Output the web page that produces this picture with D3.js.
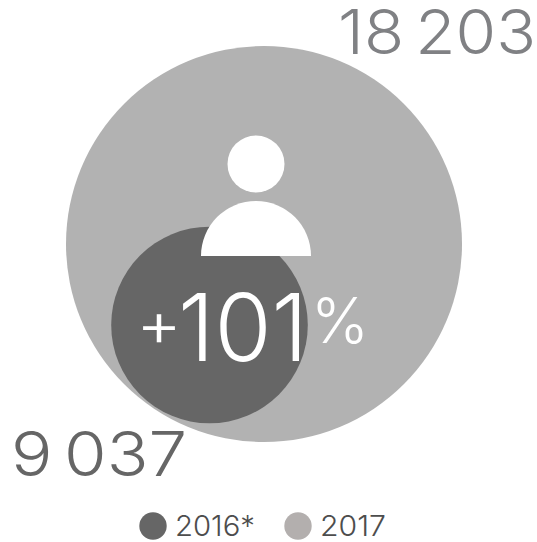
<!DOCTYPE html>
<html>
<head>
<meta charset="utf-8">
<script src="https://cdn.jsdelivr.net/npm/d3@7"></script>
<style>
  html, body { margin: 0; padding: 0; background: #fff; }
  text { font-family: Inter, "Open Sans", sans-serif; font-weight: 300; }
</style>
</head>
<body>
<div class="canvas"></div>
<script>
const years = ['2016*', '2017'];
const values = [9037, 18203];
const valueLabels = ['9 037', '18 203'];
const change = ['+', '101', '%'];

const dims = {width: 537, height: 542};

const svg = d3.select('.canvas')
    .append('svg')
    .attr('width', dims.width)
    .attr('height', dims.height)
    .style('display', 'block');

// radius is linear with the value in the original, not the area
const radius = d3.scaleLinear().domain([0, 18203]).range([0, 198]);

const colour = d3.scaleOrdinal().domain(years).range(['#666666', '#b2b2b2']);
const legendColour = d3.scaleOrdinal().domain(years).range(['#666666', '#b3afae']);

// circles, big one first
const circlePos = {'2016*': {x: 209.5, y: 325}, '2017': {x: 264, y: 244}};

svg.append('g')
    .selectAll('circle')
    .data(years.map((y, i) => ({year: y, value: values[i]})).reverse())
    .enter()
    .append('circle')
    .attr('cx', d => circlePos[d.year].x)
    .attr('cy', d => circlePos[d.year].y)
    .attr('r', d => radius(d.value))
    .attr('fill', d => colour(d.year));

// person icon
const icon = svg.append('g').attr('fill', '#fff');

icon.append('circle')
    .attr('cx', 256)
    .attr('cy', 164)
    .attr('r', 28.5);

icon.append('path')
    .attr('transform', 'translate(256, 256)')
    .attr('d', d3.arc()({
        innerRadius: 0,
        outerRadius: 55,
        startAngle: -Math.PI / 2,
        endAngle: Math.PI / 2
    }));

// value labels
const labelPos = [
    {x: 11, y: 476, w: 176, fill: '#666666'},
    {x: 338, y: 54, w: 198, fill: '#808184'}
];

svg.append('g')
    .selectAll('text')
    .data(valueLabels)
    .enter()
    .append('text')
    .attr('x', (d, i) => labelPos[i].x)
    .attr('y', (d, i) => labelPos[i].y)
    .attr('font-size', 62)
    .attr('word-spacing', -7)
    .attr('textLength', (d, i) => labelPos[i].w)
    .attr('lengthAdjust', 'spacingAndGlyphs')
    .attr('fill', (d, i) => labelPos[i].fill)
    .text(d => d);

// +101% in the middle
const changePos = [
    {x: 136, y: 346, size: 62, w: 46},
    {x: 178, y: 361, size: 93, w: 130},
    {x: 311, y: 343, size: 63, w: 58}
];

svg.append('g')
    .attr('fill', '#fff')
    .selectAll('text')
    .data(change)
    .enter()
    .append('text')
    .attr('x', (d, i) => changePos[i].x)
    .attr('y', (d, i) => changePos[i].y)
    .attr('font-size', (d, i) => changePos[i].size)
    .attr('font-weight', 100)
    .attr('textLength', (d, i) => changePos[i].w)
    .attr('lengthAdjust', 'spacingAndGlyphs')
    .text(d => d);

// legend
const legendPos = [{dot: 153, text: 175, w: 80}, {dot: 298, text: 320, w: 66}];

const legend = svg.append('g')
    .selectAll('g')
    .data(years)
    .enter()
    .append('g');

legend.append('circle')
    .attr('cx', (d, i) => legendPos[i].dot)
    .attr('cy', 526)
    .attr('r', 13.7)
    .attr('fill', d => legendColour(d));

legend.append('text')
    .attr('x', (d, i) => legendPos[i].text)
    .attr('y', 536)
    .attr('font-size', 29)
    .attr('textLength', (d, i) => legendPos[i].w)
    .attr('lengthAdjust', 'spacingAndGlyphs')
    .attr('fill', '#4d4d4d')
    .text(d => d);
</script>
</body>
</html>
